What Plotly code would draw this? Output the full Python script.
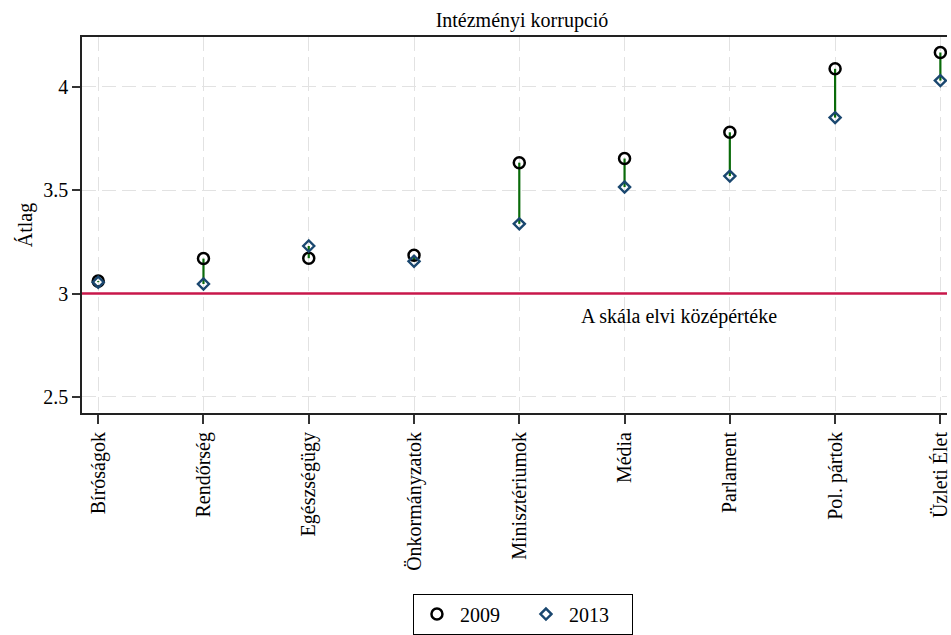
import plotly.graph_objects as go

categories = ["Bíróságok", "Rendőrség", "Egészségügy", "Önkormányzatok",
              "Minisztériumok", "Média", "Parlament", "Pol. pártok", "Üzleti Élet"]
y2009 = [3.060, 3.169, 3.171, 3.185, 3.633, 3.653, 3.780, 4.087, 4.166]
y2013 = [3.055, 3.046, 3.230, 3.156, 3.337, 3.515, 3.568, 3.851, 4.030]
yticks = [2.5, 3, 3.5, 4]
midpoint = 3
midpoint_label = "A skála elvi középértéke"

FONT = "Liberation Serif, Times New Roman, serif"
FS = 20
idx = list(range(len(categories)))

W, H = 951, 635

stem_x, stem_y = [], []
for i, a, b in zip(idx, y2009, y2013):
    stem_x += [i, i, None]
    stem_y += [a, b, None]

fig = go.Figure()
fig.add_trace(go.Scatter(x=stem_x, y=stem_y, mode="lines",
                         line=dict(color="#0a6b0a", width=2.2),
                         showlegend=False, hoverinfo="skip"))
fig.add_trace(go.Scatter(x=idx, y=y2009, mode="markers", name="2009",
                         marker=dict(symbol="circle-open", size=11, color="black",
                                     line=dict(width=2.5, color="black"))))
fig.add_trace(go.Scatter(x=idx, y=y2013, mode="markers", name="2013",
                         marker=dict(symbol="diamond-open", size=8.5, color="#1a476f",
                                     line=dict(width=2.4, color="#1a476f"))))

fig.add_shape(type="line", xref="paper", yref="y", x0=0, x1=1, y0=midpoint, y1=midpoint,
              line=dict(color="#c8174a", width=2.5), layer="above")

fig.add_annotation(text=midpoint_label, xref="paper", yref="y",
                   x=(682 - 82) / 869, y=2.89, xanchor="center", yanchor="middle",
                   showarrow=False,
                   font=dict(family=FONT, size=FS, color="black"))

fig.update_layout(
    width=W, height=H,
    margin=dict(l=82, r=0, t=37, b=H - 416),
    paper_bgcolor="white", plot_bgcolor="white",
    font=dict(family=FONT, size=FS, color="black"),
    title=dict(text="Intézményi korrupció", x=522 / W, xanchor="center",
               y=1 - 20 / H, yanchor="middle", yref="container",
               font=dict(family=FONT, size=FS, color="black")),
    legend=dict(orientation="h", x=(525 - 82) / 869, xanchor="center",
                y=(416 - 598) / 379, yanchor="top",
                bordercolor="black", borderwidth=1, bgcolor="white",
                font=dict(family=FONT, size=FS, color="black"),
                itemwidth=36, entrywidth=58),
)
fig.update_xaxes(
    range=[-0.154, 8.063], tickmode="array", tickvals=idx, ticktext=categories,
    tickangle=-90, ticks="outside", ticklen=9, tickwidth=1.5, tickcolor="#333",
    ticklabeloverflow="allow",
    showline=True, linecolor="#222", linewidth=2, mirror=True,
    showgrid=True, gridcolor="#e2e2e2", gridwidth=1, griddash="14px,6px",
    zeroline=False, tickfont=dict(family=FONT, size=FS, color="black"),
)
fig.update_yaxes(
    range=[2.422, 4.241], tickmode="array", tickvals=yticks,
    ticktext=[str(v) for v in yticks],
    ticks="outside", ticklen=8, tickwidth=1.5, tickcolor="#333",
    showline=True, linecolor="#222", linewidth=1.5, mirror=False,
    showgrid=True, gridcolor="#e2e2e2", gridwidth=1, griddash="14px,6px",
    zeroline=False, tickfont=dict(family=FONT, size=FS, color="black"),
    title=dict(text="Átlag", font=dict(family=FONT, size=FS, color="black"), standoff=5),
)

fig.write_html("out.html",
               config={"displayModeBar": False},
               post_script="document.body.style.margin='0';"
                           "document.body.style.overflow='hidden';")
